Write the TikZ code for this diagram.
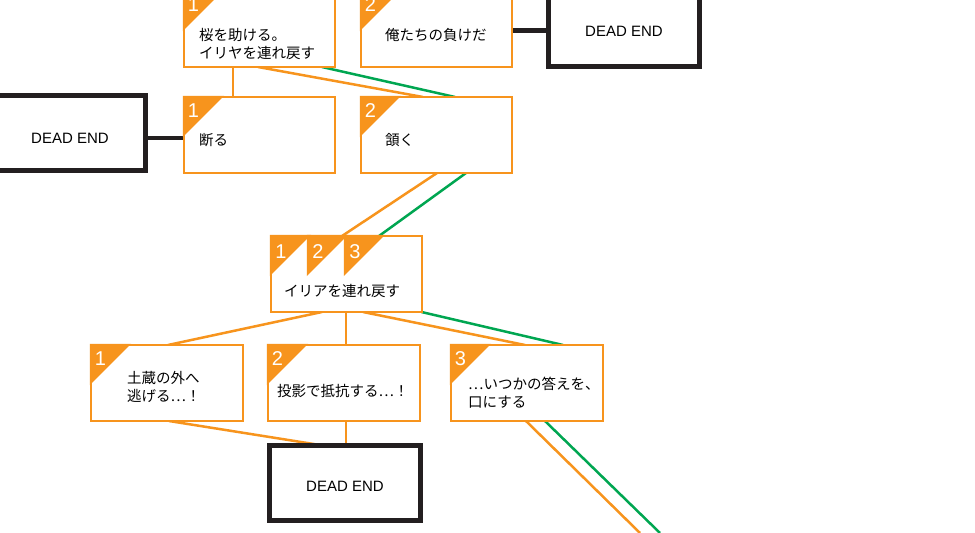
\documentclass[tikz,border=0pt]{standalone}
\usepackage{fontspec}
\setmainfont{Liberation Sans}
\newfontfamily\jp{Noto Sans CJK JP}
\usetikzlibrary{backgrounds}
\definecolor{og}{HTML}{F7941D}
\definecolor{gr}{HTML}{00A651}
\definecolor{dk}{HTML}{231F20}
\begin{document}
\begin{tikzpicture}[x=1pt,y=-1pt,
 obox/.style={draw=og, line width=2.5pt, fill=white, minimum width=151pt, minimum height=76pt, inner sep=0pt, outer sep=0pt},
 dbox/.style={draw=dk, line width=5pt, fill=white, minimum width=151pt, minimum height=75pt, inner sep=0pt, outer sep=0pt},
 jtxt/.style={font=\jp\fontsize{14.5}{18}\selectfont, inner sep=0pt, anchor=west, align=left},
 dtxt/.style={font=\fontsize{15}{18}\selectfont, inner sep=0pt},
 num/.style={font=\fontsize{20}{20}\selectfont, text=white, inner sep=0pt},
 tagfill/.style={fill=og},
 oline/.style={draw=og, line width=2.5pt},
 gline/.style={draw=gr, line width=2.5pt},
 kline/.style={draw=dk, line width=4.5pt}]
\useasboundingbox (0,0) rectangle (975,533);

% boxes
\node[obox] (A) at (259.5,29) {};
\node[obox] (B) at (436.5,29) {};
\node[obox] (C) at (259.5,135) {};
\node[obox] (Dn) at (436.5,135) {};
\node[obox] (E) at (346.5,274) {};
\node[obox, minimum width=152pt] (F1) at (167,383) {};
\node[obox, minimum width=152pt] (F2) at (344,383) {};
\node[obox, minimum width=152pt] (F3) at (527,383) {};
\node[dbox] (DE0) at (70,133) {};
\node[dbox, minimum height=77pt] (DE1) at (624,28) {};
\node[dbox] (DE2) at (345,483) {};

\coordinate (o3) at (640,533);
\coordinate (g3) at (660,533);

% connectors
\begin{scope}[on background layer]
\fill[white] (0,0) rectangle (975,533);
\draw[oline] ([xshift=-26.5pt]A.south) -- ([xshift=-26.5pt]C.north);
\draw[oline] ([xshift=-1.5pt]A.south) -- ([xshift=-13.5pt]Dn.north);
\draw[gline] ([xshift=62.5pt]A.south) -- ([xshift=18.5pt]Dn.north);
\draw[kline] ([yshift=-1.5pt]B.east) -- ([yshift=-1.5pt]B.east -| DE1.west);
\draw[kline] ([yshift=-3pt]C.west) -- ([yshift=-3pt]C.west -| DE0.east);
\draw[oline] ([xshift=0.5pt]Dn.south) -- ([xshift=-4.5pt]E.north);
\draw[gline] ([xshift=29.5pt]Dn.south) -- ([xshift=32.5pt]E.north);
\draw[oline] ([xshift=-24.5pt]E.south) -- ([xshift=1pt]F1.north);
\draw[oline] ([xshift=-0.5pt]E.south) -- ([xshift=2pt]F2.north);
\draw[oline] ([xshift=16.5pt]E.south) -- ([xshift=-2pt]F3.north);
\draw[gline] ([xshift=75pt]E.south) -- ([xshift=36pt]F3.north);
\draw[oline] ([xshift=2pt]F1.south) -- ([xshift=-22pt]DE2.north);
\draw[oline] ([xshift=2pt]F2.south) -- ([xshift=1pt]DE2.north);
\draw[oline] ([xshift=-1pt]F3.south) -- (o3);
\draw[gline] ([xshift=18pt]F3.south) -- (g3);
\end{scope}

% tags
\foreach \b/\n in {A/1,B/2,C/1,Dn/2,F1/1,F2/2,F3/3}{
  \fill[tagfill] ([shift={(-1.25,-1.25)}]\b.north west) -- ++(41.25,0) -- ++(-41.25,41.25) -- cycle;
  \node[num] (\b-n) at ([shift={(9.5,14)}]\b.north west) {\n};
}
\foreach \o/\n in {0/1,37/2,74/3}{
  \fill[tagfill] ([shift={(\o-1.25,-1.25)}]E.north west) -- ++(41.25,0) -- ++(-41.25,41.25) -- cycle;
  \node[num] (E-n\n) at ([shift={(\o+10,16)}]E.north west) {\n};
}

% texts
\node[jtxt] (At) at (199,44) {桜を助ける。\\イリヤを連れ戻す};
\node[jtxt] (Bt) at (385,35) {俺たちの負けだ};
\node[jtxt] (Ct) at (199,140) {断る};
\node[jtxt] (Dt) at (385,140) {頷く};
\node[jtxt] (Et) at (284,291) {イリアを連れ戻す};
\node[jtxt] (F1t) at (127,387) {土蔵の外へ\\逃げる…！};
\node[jtxt] (F2t) at (277,391) {投影で抵抗する…！};
\node[jtxt] (F3t) at (468,393) {…いつかの答えを、\\口にする};
\node[dtxt] (DE0t) at (70,138) {DEAD END};
\node[dtxt] (DE1t) at (624,31.5) {DEAD END};
\node[dtxt] (DE2t) at (345,486) {DEAD END};
\end{tikzpicture}
\end{document}
